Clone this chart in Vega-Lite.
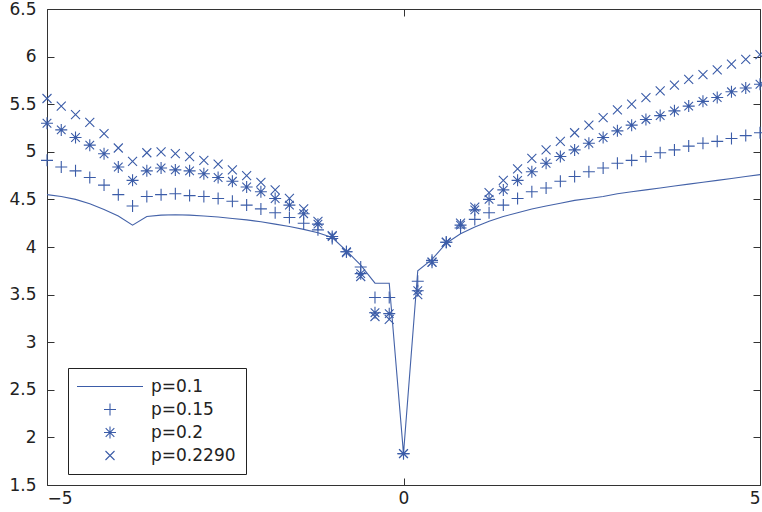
{
  "$schema": "https://vega.github.io/schema/vega-lite/v6.json",
  "width": 713,
  "height": 476,
  "autosize": "none",
  "padding": {"left": 47, "top": 9, "right": 2, "bottom": 27},
  "background": "white",
  "config": {
    "view": {"stroke": "#333333", "strokeWidth": 1},
    "axis": {"grid": false, "domain": false, "tickSize": -7, "tickColor": "#333333", "tickWidth": 1, "labelFont": "DejaVu Sans", "labelFontSize": 17, "labelColor": "#222222", "title": null}
  },
  "datasets": {
    "d": [
      {"x": -5.0, "s": "p=0.1", "y": 4.55}, {"x": -4.8, "s": "p=0.1", "y": 4.53}, {"x": -4.6, "s": "p=0.1", "y": 4.50}, {"x": -4.4, "s": "p=0.1", "y": 4.455}, {"x": -4.2, "s": "p=0.1", "y": 4.395}, {"x": -4.0, "s": "p=0.1", "y": 4.325}, {"x": -3.8, "s": "p=0.1", "y": 4.23}, {"x": -3.6, "s": "p=0.1", "y": 4.32}, {"x": -3.4, "s": "p=0.1", "y": 4.335}, {"x": -3.2, "s": "p=0.1", "y": 4.338}, {"x": -3.0, "s": "p=0.1", "y": 4.335}, {"x": -2.8, "s": "p=0.1", "y": 4.325}, {"x": -2.6, "s": "p=0.1", "y": 4.315}, {"x": -2.4, "s": "p=0.1", "y": 4.30}, {"x": -2.2, "s": "p=0.1", "y": 4.285}, {"x": -2.0, "s": "p=0.1", "y": 4.265}, {"x": -1.8, "s": "p=0.1", "y": 4.24}, {"x": -1.6, "s": "p=0.1", "y": 4.215}, {"x": -1.4, "s": "p=0.1", "y": 4.185}, {"x": -1.2, "s": "p=0.1", "y": 4.15}, {"x": -1.0, "s": "p=0.1", "y": 4.10}, {"x": -0.8, "s": "p=0.1", "y": 3.96}, {"x": -0.6, "s": "p=0.1", "y": 3.81}, {"x": -0.4, "s": "p=0.1", "y": 3.62}, {"x": -0.2, "s": "p=0.1", "y": 3.62}, {"x": 0.0, "s": "p=0.1", "y": 1.83}, {"x": 0.2, "s": "p=0.1", "y": 3.75}, {"x": 0.4, "s": "p=0.1", "y": 3.87}, {"x": 0.6, "s": "p=0.1", "y": 4.04}, {"x": 0.8, "s": "p=0.1", "y": 4.14}, {"x": 1.0, "s": "p=0.1", "y": 4.21}, {"x": 1.2, "s": "p=0.1", "y": 4.27}, {"x": 1.4, "s": "p=0.1", "y": 4.32}, {"x": 1.6, "s": "p=0.1", "y": 4.36}, {"x": 1.8, "s": "p=0.1", "y": 4.40}, {"x": 2.0, "s": "p=0.1", "y": 4.43}, {"x": 2.2, "s": "p=0.1", "y": 4.46}, {"x": 2.4, "s": "p=0.1", "y": 4.49}, {"x": 2.6, "s": "p=0.1", "y": 4.51}, {"x": 2.8, "s": "p=0.1", "y": 4.53}, {"x": 3.0, "s": "p=0.1", "y": 4.56}, {"x": 3.2, "s": "p=0.1", "y": 4.58}, {"x": 3.4, "s": "p=0.1", "y": 4.60}, {"x": 3.6, "s": "p=0.1", "y": 4.62}, {"x": 3.8, "s": "p=0.1", "y": 4.64}, {"x": 4.0, "s": "p=0.1", "y": 4.66}, {"x": 4.2, "s": "p=0.1", "y": 4.68}, {"x": 4.4, "s": "p=0.1", "y": 4.70}, {"x": 4.6, "s": "p=0.1", "y": 4.72}, {"x": 4.8, "s": "p=0.1", "y": 4.74}, {"x": 5.0, "s": "p=0.1", "y": 4.76},

      {"x": -5.0, "s": "p=0.15", "y": 4.91}, {"x": -4.8, "s": "p=0.15", "y": 4.84}, {"x": -4.6, "s": "p=0.15", "y": 4.80}, {"x": -4.4, "s": "p=0.15", "y": 4.73}, {"x": -4.2, "s": "p=0.15", "y": 4.65}, {"x": -4.0, "s": "p=0.15", "y": 4.55}, {"x": -3.8, "s": "p=0.15", "y": 4.43}, {"x": -3.6, "s": "p=0.15", "y": 4.53}, {"x": -3.4, "s": "p=0.15", "y": 4.55}, {"x": -3.2, "s": "p=0.15", "y": 4.56}, {"x": -3.0, "s": "p=0.15", "y": 4.54}, {"x": -2.8, "s": "p=0.15", "y": 4.53}, {"x": -2.6, "s": "p=0.15", "y": 4.51}, {"x": -2.4, "s": "p=0.15", "y": 4.48}, {"x": -2.2, "s": "p=0.15", "y": 4.44}, {"x": -2.0, "s": "p=0.15", "y": 4.40}, {"x": -1.8, "s": "p=0.15", "y": 4.36}, {"x": -1.6, "s": "p=0.15", "y": 4.31}, {"x": -1.4, "s": "p=0.15", "y": 4.25}, {"x": -1.2, "s": "p=0.15", "y": 4.18}, {"x": -1.0, "s": "p=0.15", "y": 4.09}, {"x": -0.8, "s": "p=0.15", "y": 3.95}, {"x": -0.6, "s": "p=0.15", "y": 3.79}, {"x": -0.4, "s": "p=0.15", "y": 3.47}, {"x": -0.2, "s": "p=0.15", "y": 3.47}, {"x": 0.0, "s": "p=0.15", "y": 1.83}, {"x": 0.2, "s": "p=0.15", "y": 3.64}, {"x": 0.4, "s": "p=0.15", "y": 3.86}, {"x": 0.6, "s": "p=0.15", "y": 4.05}, {"x": 0.8, "s": "p=0.15", "y": 4.20}, {"x": 1.0, "s": "p=0.15", "y": 4.29}, {"x": 1.2, "s": "p=0.15", "y": 4.36}, {"x": 1.4, "s": "p=0.15", "y": 4.44}, {"x": 1.6, "s": "p=0.15", "y": 4.51}, {"x": 1.8, "s": "p=0.15", "y": 4.58}, {"x": 2.0, "s": "p=0.15", "y": 4.62}, {"x": 2.2, "s": "p=0.15", "y": 4.69}, {"x": 2.4, "s": "p=0.15", "y": 4.74}, {"x": 2.6, "s": "p=0.15", "y": 4.79}, {"x": 2.8, "s": "p=0.15", "y": 4.83}, {"x": 3.0, "s": "p=0.15", "y": 4.88}, {"x": 3.2, "s": "p=0.15", "y": 4.91}, {"x": 3.4, "s": "p=0.15", "y": 4.95}, {"x": 3.6, "s": "p=0.15", "y": 4.99}, {"x": 3.8, "s": "p=0.15", "y": 5.02}, {"x": 4.0, "s": "p=0.15", "y": 5.06}, {"x": 4.2, "s": "p=0.15", "y": 5.09}, {"x": 4.4, "s": "p=0.15", "y": 5.11}, {"x": 4.6, "s": "p=0.15", "y": 5.14}, {"x": 4.8, "s": "p=0.15", "y": 5.17}, {"x": 5.0, "s": "p=0.15", "y": 5.20},

      {"x": -5.0, "s": "p=0.2", "y": 5.30}, {"x": -4.8, "s": "p=0.2", "y": 5.23}, {"x": -4.6, "s": "p=0.2", "y": 5.15}, {"x": -4.4, "s": "p=0.2", "y": 5.07}, {"x": -4.2, "s": "p=0.2", "y": 4.98}, {"x": -4.0, "s": "p=0.2", "y": 4.84}, {"x": -3.8, "s": "p=0.2", "y": 4.70}, {"x": -3.6, "s": "p=0.2", "y": 4.80}, {"x": -3.4, "s": "p=0.2", "y": 4.83}, {"x": -3.2, "s": "p=0.2", "y": 4.81}, {"x": -3.0, "s": "p=0.2", "y": 4.80}, {"x": -2.8, "s": "p=0.2", "y": 4.77}, {"x": -2.6, "s": "p=0.2", "y": 4.73}, {"x": -2.4, "s": "p=0.2", "y": 4.69}, {"x": -2.2, "s": "p=0.2", "y": 4.63}, {"x": -2.0, "s": "p=0.2", "y": 4.58}, {"x": -1.8, "s": "p=0.2", "y": 4.51}, {"x": -1.6, "s": "p=0.2", "y": 4.44}, {"x": -1.4, "s": "p=0.2", "y": 4.35}, {"x": -1.2, "s": "p=0.2", "y": 4.24}, {"x": -1.0, "s": "p=0.2", "y": 4.11}, {"x": -0.8, "s": "p=0.2", "y": 3.95}, {"x": -0.6, "s": "p=0.2", "y": 3.72}, {"x": -0.4, "s": "p=0.2", "y": 3.31}, {"x": -0.2, "s": "p=0.2", "y": 3.30}, {"x": 0.0, "s": "p=0.2", "y": 1.83}, {"x": 0.2, "s": "p=0.2", "y": 3.54}, {"x": 0.4, "s": "p=0.2", "y": 3.84}, {"x": 0.6, "s": "p=0.2", "y": 4.05}, {"x": 0.8, "s": "p=0.2", "y": 4.23}, {"x": 1.0, "s": "p=0.2", "y": 4.39}, {"x": 1.2, "s": "p=0.2", "y": 4.50}, {"x": 1.4, "s": "p=0.2", "y": 4.60}, {"x": 1.6, "s": "p=0.2", "y": 4.70}, {"x": 1.8, "s": "p=0.2", "y": 4.79}, {"x": 2.0, "s": "p=0.2", "y": 4.88}, {"x": 2.2, "s": "p=0.2", "y": 4.95}, {"x": 2.4, "s": "p=0.2", "y": 5.02}, {"x": 2.6, "s": "p=0.2", "y": 5.09}, {"x": 2.8, "s": "p=0.2", "y": 5.15}, {"x": 3.0, "s": "p=0.2", "y": 5.22}, {"x": 3.2, "s": "p=0.2", "y": 5.28}, {"x": 3.4, "s": "p=0.2", "y": 5.34}, {"x": 3.6, "s": "p=0.2", "y": 5.38}, {"x": 3.8, "s": "p=0.2", "y": 5.43}, {"x": 4.0, "s": "p=0.2", "y": 5.48}, {"x": 4.2, "s": "p=0.2", "y": 5.53}, {"x": 4.4, "s": "p=0.2", "y": 5.57}, {"x": 4.6, "s": "p=0.2", "y": 5.63}, {"x": 4.8, "s": "p=0.2", "y": 5.67}, {"x": 5.0, "s": "p=0.2", "y": 5.71},

      {"x": -5.0, "s": "p=0.2290", "y": 5.56}, {"x": -4.8, "s": "p=0.2290", "y": 5.48}, {"x": -4.6, "s": "p=0.2290", "y": 5.39}, {"x": -4.4, "s": "p=0.2290", "y": 5.31}, {"x": -4.2, "s": "p=0.2290", "y": 5.19}, {"x": -4.0, "s": "p=0.2290", "y": 5.04}, {"x": -3.8, "s": "p=0.2290", "y": 4.90}, {"x": -3.6, "s": "p=0.2290", "y": 4.99}, {"x": -3.4, "s": "p=0.2290", "y": 5.00}, {"x": -3.2, "s": "p=0.2290", "y": 4.98}, {"x": -3.0, "s": "p=0.2290", "y": 4.95}, {"x": -2.8, "s": "p=0.2290", "y": 4.91}, {"x": -2.6, "s": "p=0.2290", "y": 4.87}, {"x": -2.4, "s": "p=0.2290", "y": 4.81}, {"x": -2.2, "s": "p=0.2290", "y": 4.75}, {"x": -2.0, "s": "p=0.2290", "y": 4.68}, {"x": -1.8, "s": "p=0.2290", "y": 4.60}, {"x": -1.6, "s": "p=0.2290", "y": 4.51}, {"x": -1.4, "s": "p=0.2290", "y": 4.40}, {"x": -1.2, "s": "p=0.2290", "y": 4.27}, {"x": -1.0, "s": "p=0.2290", "y": 4.12}, {"x": -0.8, "s": "p=0.2290", "y": 3.94}, {"x": -0.6, "s": "p=0.2290", "y": 3.69}, {"x": -0.4, "s": "p=0.2290", "y": 3.27}, {"x": -0.2, "s": "p=0.2290", "y": 3.24}, {"x": 0.0, "s": "p=0.2290", "y": 1.83}, {"x": 0.2, "s": "p=0.2290", "y": 3.50}, {"x": 0.4, "s": "p=0.2290", "y": 3.84}, {"x": 0.6, "s": "p=0.2290", "y": 4.05}, {"x": 0.8, "s": "p=0.2290", "y": 4.25}, {"x": 1.0, "s": "p=0.2290", "y": 4.42}, {"x": 1.2, "s": "p=0.2290", "y": 4.57}, {"x": 1.4, "s": "p=0.2290", "y": 4.70}, {"x": 1.6, "s": "p=0.2290", "y": 4.82}, {"x": 1.8, "s": "p=0.2290", "y": 4.93}, {"x": 2.0, "s": "p=0.2290", "y": 5.02}, {"x": 2.2, "s": "p=0.2290", "y": 5.11}, {"x": 2.4, "s": "p=0.2290", "y": 5.20}, {"x": 2.6, "s": "p=0.2290", "y": 5.28}, {"x": 2.8, "s": "p=0.2290", "y": 5.36}, {"x": 3.0, "s": "p=0.2290", "y": 5.44}, {"x": 3.2, "s": "p=0.2290", "y": 5.50}, {"x": 3.4, "s": "p=0.2290", "y": 5.57}, {"x": 3.6, "s": "p=0.2290", "y": 5.64}, {"x": 3.8, "s": "p=0.2290", "y": 5.70}, {"x": 4.0, "s": "p=0.2290", "y": 5.76}, {"x": 4.2, "s": "p=0.2290", "y": 5.81}, {"x": 4.4, "s": "p=0.2290", "y": 5.86}, {"x": 4.6, "s": "p=0.2290", "y": 5.92}, {"x": 4.8, "s": "p=0.2290", "y": 5.97}, {"x": 5.0, "s": "p=0.2290", "y": 6.02}
    ]
  },
  "data": {"name": "d"},
  "layer": [
    {
      "transform": [{"filter": "datum.s === 'p=0.1'"}],
      "mark": {"type": "line", "color": "#4462a8", "strokeWidth": 1.1},
      "encoding": {
        "x": {"field": "x", "type": "quantitative", "scale": {"domain": [-5, 5], "nice": false, "zero": false},
              "axis": {"orient": "bottom", "values": [-5, 0, 5], "format": "~g", "labelPadding": 12}},
        "y": {"field": "y", "type": "quantitative", "scale": {"domain": [1.5, 6.5], "nice": false, "zero": false},
              "axis": {"orient": "left", "values": [1.5, 2, 2.5, 3, 3.5, 4, 4.5, 5, 5.5, 6, 6.5], "format": "~g", "labelPadding": 18}}
      }
    },
    {
      "transform": [{"filter": "datum.s !== 'p=0.1'"}],
      "mark": {"type": "point", "filled": false, "color": "#3b5ca8", "size": 144, "strokeWidth": 1.1, "opacity": 1},
      "encoding": {
        "x": {"field": "x", "type": "quantitative", "scale": {"domain": [-5, 5], "nice": false, "zero": false},
              "axis": {"orient": "top", "values": [-5, 0, 5], "labels": false}},
        "y": {"field": "y", "type": "quantitative", "scale": {"domain": [1.5, 6.5], "nice": false, "zero": false},
              "axis": {"orient": "right", "values": [1.5, 2, 2.5, 3, 3.5, 4, 4.5, 5, 5.5, 6, 6.5], "labels": false}},
        "shape": {"field": "s", "type": "nominal",
          "scale": {"domain": ["p=0.1", "p=0.15", "p=0.2", "p=0.2290"],
                    "range": ["M-5.5,0L5.5,0", "M-1,0L1,0M0,-1L0,1", "M-1,0L1,0M0,-1L0,1M-0.72,-0.72L0.72,0.72M-0.72,0.72L0.72,-0.72", "M-0.75,-0.75L0.75,0.75M-0.75,0.75L0.75,-0.75"]},
          "legend": {"orient": "none", "legendX": 21, "legendY": 359, "title": null, "strokeColor": "#222222", "fillColor": "white", "padding": 10,
                     "labelFont": "DejaVu Sans", "labelFontSize": 17, "labelColor": "#222222", "symbolSize": 144, "symbolStrokeWidth": 1.1,
                     "symbolStrokeColor": "#3b5ca8", "symbolFillColor": "transparent", "symbolOffset": 23.5, "labelOffset": 32.5, "rowPadding": 5}}
      }
    }
  ],
  "resolve": {"axis": {"x": "independent", "y": "independent"}}
}
